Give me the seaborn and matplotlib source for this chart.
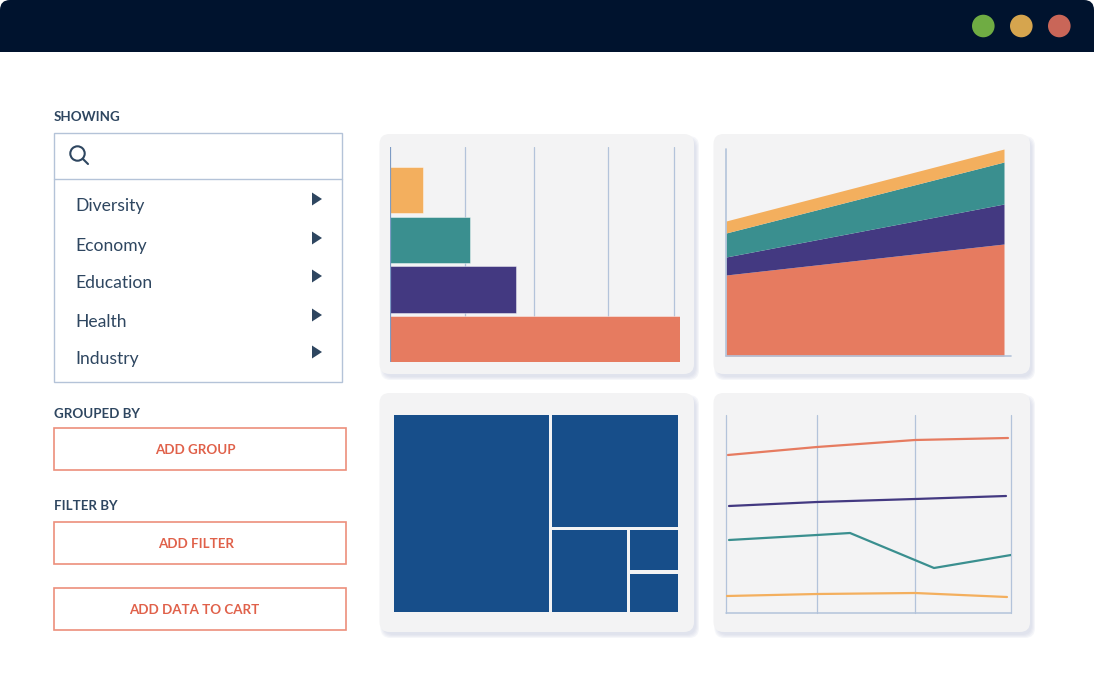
import matplotlib
matplotlib.use("Agg")
import matplotlib.pyplot as plt
from matplotlib.patches import FancyBboxPatch, Rectangle, Circle, Polygon
import pandas as pd
import seaborn as sns

W, H = 1094, 695

# colours
NAVY = "#00132E"
TEXT = "#2E4660"
BORDER = "#B4C3D8"
RED = "#E0614A"
PANEL = "#F3F3F4"
SHADOW = "#C9CEE2"
GRID = "#B3C3DA"
BLUE = "#174E8A"
series_names = ["Orange", "Teal", "Purple", "Coral"]
series_colors = ["#F3AF5E", "#3A8F8F", "#433981", "#E67B60"]

# sidebar text
menu_items = ["Diversity", "Economy", "Education", "Health", "Industry"]

# bar chart
bar_values = [33, 80, 126, 290]
bar_ticks = [75, 144, 218, 284]

# area chart
area_x = [0, 278]
area_coral = [81, 112]
area_purple = [18, 40]
area_teal = [24, 42]
area_orange = [12, 13]

# line chart
line_ticks = [91, 189, 285]
coral_x = [2, 91, 189, 282]
coral_y = [158, 166, 173, 175]
purple_x = [3, 91, 189, 280]
purple_y = [107, 111, 114, 117]
teal_x = [3, 91, 124, 208, 285]
teal_y = [73, 78, 80, 45, 58]
orange_x = [1, 91, 189, 281]
orange_y = [17, 19, 20, 16]

# treemap cell areas
tree_big = 31700
tree_top = 14885
tree_mid = 6669
tree_small_a = 2244
tree_small_b = 2116

sns.set_theme(style="white")
plt.rcParams["font.family"] = ["Lato", "DejaVu Sans"]

fig = plt.figure(figsize=(W / 100, H / 100), dpi=100, facecolor="white")

# whole-page layer in pixel units
bg = fig.add_axes([0, 0, 1, 1])
bg.set_xlim(0, W)
bg.set_ylim(H, 0)
bg.axis("off")


def chart_axes(x0, y0, x1, y1):
    ax = fig.add_axes([x0 / W, 1 - y1 / H, (x1 - x0) / W, (y1 - y0) / H])
    ax.patch.set_alpha(0)
    sns.despine(ax=ax, left=True, bottom=True)
    ax.set_xticks([])
    ax.set_yticks([])
    ax.set_xlabel("")
    ax.set_ylabel("")
    return ax


def rounded(x, y, w, h, r, color, z=1, alpha=1):
    bg.add_patch(FancyBboxPatch((x + r, y + r), w - 2 * r, h - 2 * r,
                                boxstyle="round,pad=%d,rounding_size=%d" % (r, r),
                                fc=color, ec="none", zorder=z, alpha=alpha))


# window header
rounded(0, 0, W, 40, 10, NAVY)
bg.add_patch(Rectangle((0, 20), W, 32, fc=NAVY, ec="none"))
for cx, c in zip([983.3, 1021.3, 1059.3], ["#6FAC43", "#D6A54E", "#C96658"]):
    bg.add_patch(Circle((cx, 26), 11.3, fc=c, ec="none", zorder=3))

# sidebar
for label, y in [("SHOWING", 121), ("GROUPED BY", 418), ("FILTER BY", 510)]:
    bg.text(54, y, label, color=TEXT, fontsize=9.6, fontweight="bold", va="baseline", ha="left")

bg.add_patch(Rectangle((53.6, 133.2), 288, 249, fc="white", ec=BORDER, lw=1))
bg.plot([53.6, 341.6], [178.6, 178.6], color=BORDER, lw=1)
bg.add_patch(Circle((77.5, 153.5), 7.2, fc="none", ec=TEXT, lw=1.5))
bg.plot([82.7, 88], [158.7, 164], color=TEXT, lw=1.5)

for item, ty, ay in zip(menu_items, [211.5, 250.5, 288, 327, 364], [199, 238, 276, 315, 352]):
    bg.text(75.5, ty, item, color=TEXT, fontsize=12.6, va="baseline", ha="left")
    bg.add_patch(Polygon([(312, ay - 6.5), (322, ay), (312, ay + 6.5)], fc=TEXT, ec="none"))

for label, y0, tx in [("ADD GROUP", 428, 195.5), ("ADD FILTER", 522, 196), ("ADD DATA TO CART", 588, 194)]:
    bg.add_patch(Rectangle((53.6, y0), 292, 42, fc="white", ec="#EC8F7C", lw=1.2))
    bg.text(tx, y0 + 26, label, color=RED, fontsize=9.6, fontweight="bold", va="baseline", ha="center")

# chart cards, the shadow is a few faint layers
for x, y, w, h in [(379.5, 134, 314.5, 240), (713.5, 134, 316.5, 240), (379.5, 393, 314.5, 239), (713.5, 393, 316.5, 239)]:
    for grow in [3, 2, 1, 0]:
        rounded(x + 2 - grow + 2, y + 3 - grow + 2, w + 2 * grow - 2, h + 2 * grow - 2, 10, SHADOW, z=1, alpha=0.18)
    rounded(x, y, w, h, 10, PANEL, z=2)

# bars
ax = chart_axes(390, 147, 680, 362)
bar_df = pd.DataFrame({"name": series_names, "value": bar_values})
for t in bar_ticks:
    ax.axvline(t, color=GRID, lw=0.9, zorder=0)
sns.barplot(data=bar_df, y="name", x="value", hue="name", palette=series_colors, legend=False,
            order=series_names, width=0.93, ax=ax, saturation=1, linewidth=0.6,
            edgecolor="#FFFFFF80", zorder=2)
ax.set_xlim(0, 290)
ax.set_ylim(3.46, -0.866)
ax.axvline(0, color="#7D9BC4", lw=1.6, zorder=3)
ax.set_xticks([])
ax.set_yticks([])
ax.set_xlabel("")
ax.set_ylabel("")

# stacked area
ax = chart_axes(726, 149, 1011, 356)
ax.stackplot(area_x, area_coral, area_purple, area_teal, area_orange,
             colors=[series_colors[3], series_colors[2], series_colors[1], series_colors[0]], lw=0)
ax.set_xlim(0, 285)
ax.set_ylim(0, 207)
ax.axvline(0, color=GRID, lw=1.2, clip_on=False)
ax.axhline(0, color=GRID, lw=1.2, clip_on=False)

# lines
ax = chart_axes(726, 415, 1011, 613)
line_df = pd.concat([
    pd.DataFrame({"x": coral_x, "y": coral_y, "s": "Coral"}),
    pd.DataFrame({"x": purple_x, "y": purple_y, "s": "Purple"}),
    pd.DataFrame({"x": teal_x, "y": teal_y, "s": "Teal"}),
    pd.DataFrame({"x": orange_x, "y": orange_y, "s": "Orange"}),
])
for t in line_ticks:
    ax.axvline(t, color=GRID, lw=0.9, zorder=0, clip_on=False)
ax.axvline(0, color=GRID, lw=0.9, zorder=0, clip_on=False)
ax.axhline(0, color=GRID, lw=1.1, zorder=0, clip_on=False)
sns.lineplot(data=line_df, x="x", y="y", hue="s", palette=dict(zip(series_names, series_colors)),
             legend=False, lw=1.6, ax=ax, estimator=None, sort=False)
ax.set_xlim(0, 285)
ax.set_ylim(0, 198)
ax.set_xlabel("")
ax.set_ylabel("")
ax.set_xticks([])
ax.set_yticks([])

# treemap, split from the areas
ax = chart_axes(392.5, 413.5, 679.5, 613.5)
tw, th = 287, 200
total = tree_big + tree_top + tree_mid + tree_small_a + tree_small_b
left_w = tw * tree_big / total
right_w = tw - left_w
top_h = th * tree_top / (total - tree_big)
low_h = th - top_h
mid_w = right_w * tree_mid / (tree_mid + tree_small_a + tree_small_b)
small_w = right_w - mid_w
a_h = low_h * tree_small_a / (tree_small_a + tree_small_b)
cells = [
    (0, 0, left_w, th),
    (left_w, 0, right_w, top_h),
    (left_w, top_h, mid_w, low_h),
    (left_w + mid_w, top_h, small_w, a_h),
    (left_w + mid_w, top_h + a_h, small_w, low_h - a_h),
]
gap = 1.7
for cx, cy, cw, ch in cells:
    ax.add_patch(Rectangle((cx + gap, cy + gap), cw - 2 * gap, ch - 2 * gap, fc=BLUE, ec="none"))
ax.set_xlim(0, tw)
ax.set_ylim(th, 0)

fig.savefig("out.png", dpi=100, facecolor="white")
